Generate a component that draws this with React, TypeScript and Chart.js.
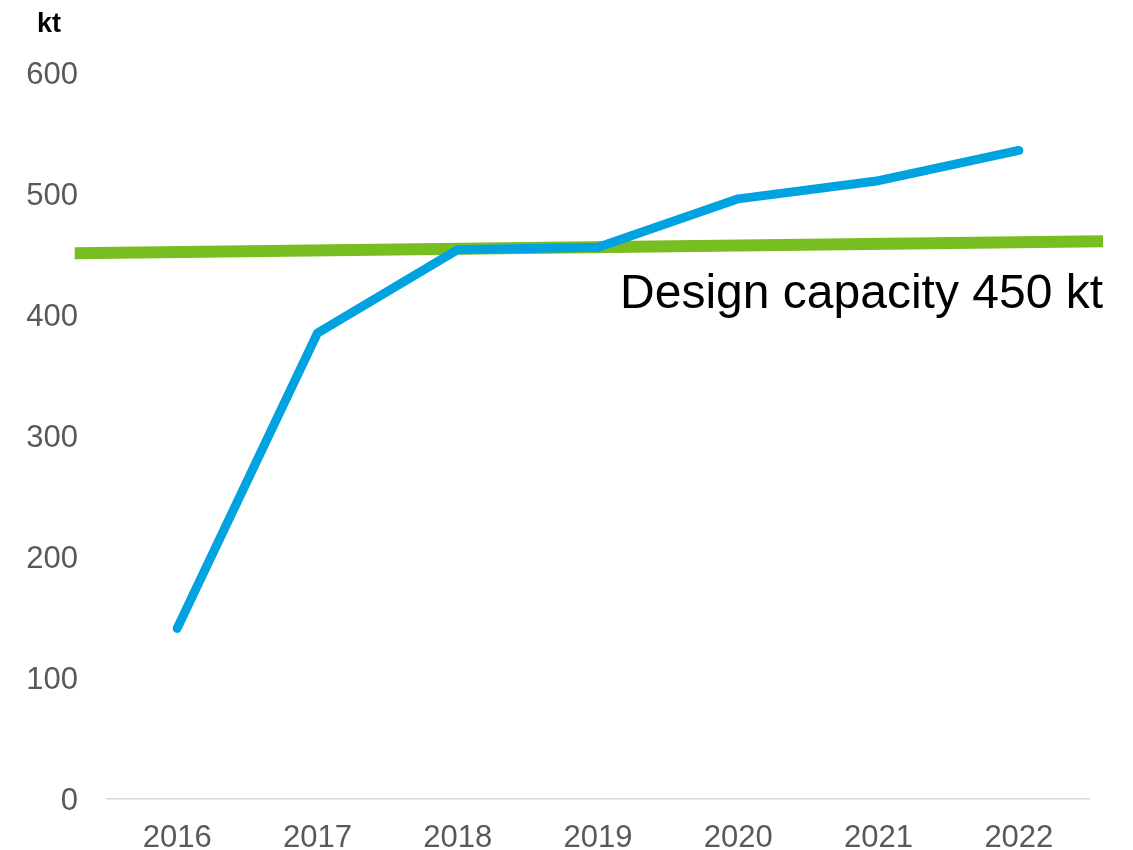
import React, { useEffect, useRef } from "react";
import { Chart, registerables } from "chart.js";

Chart.register(...registerables);

const years = ["2016", "2017", "2018", "2019", "2020", "2021", "2022"];
const production = [141, 385, 454, 456, 496, 511, 536];
// design capacity reference line: start/end (year position, kt)
const capacityX = [2015.27, 2022.6];
const capacityY = [451, 461];
const yTicks = [0, 100, 200, 300, 400, 500, 600];
const unitLabel = "kt";
const capacityLabel = "Design capacity 450 kt";
const capacityLabelValue = 406;

const FONT = "'Liberation Sans', Arial, sans-serif";

export default function App() {
  const ref = useRef<HTMLCanvasElement | null>(null);

  useEffect(() => {
    const canvas = ref.current;
    if (!canvas) return;
    document.body.style.margin = "0";

    const textPlugin = {
      id: "texts",
      afterDatasetsDraw(chart: any) {
        const ctx = chart.ctx;
        const xs = chart.scales.xCap;
        const ys = chart.scales.y;
        ctx.save();
        ctx.fillStyle = "#000000";
        ctx.font = `bold 27px ${FONT}`;
        ctx.textAlign = "left";
        ctx.textBaseline = "middle";
        ctx.fillText(unitLabel, 37, 25);
        ctx.font = `48px ${FONT}`;
        ctx.textAlign = "right";
        ctx.textBaseline = "alphabetic";
        ctx.fillText(
          capacityLabel,
          xs.getPixelForValue(capacityX[1]),
          ys.getPixelForValue(capacityLabelValue)
        );
        ctx.restore();
      },
    };

    const chart = new Chart(canvas, {
      type: "line",
      data: {
        labels: years,
        datasets: [
          {
            data: production,
            borderColor: "#00A3E0",
            borderWidth: 9,
            borderCapStyle: "round",
            borderJoinStyle: "round",
            pointRadius: 0,
            tension: 0,
            xAxisID: "x",
          } as any,
          {
            data: capacityX.map((x, i) => ({ x, y: capacityY[i] })),
            borderColor: "#78BE20",
            borderWidth: 12,
            borderCapStyle: "butt",
            pointRadius: 0,
            tension: 0,
            xAxisID: "xCap",
            clip: false,
          } as any,
        ],
      },
      options: {
        animation: false,
        responsive: false,
        maintainAspectRatio: false,
        layout: { padding: { top: 73, right: 44, bottom: 0, left: 0 } },
        plugins: { legend: { display: false }, tooltip: { enabled: false } },
        scales: {
          x: {
            type: "category",
            offset: true,
            grid: { display: false, drawTicks: false },
            border: { display: true, color: "#d9d9d9", width: 1.5 },
            ticks: {
              color: "#595959",
              font: { size: 31, family: FONT },
              padding: 21,
              maxRotation: 0,
            },
            afterFit(scale: any) {
              scale.height = 51;
            },
          },
          xCap: {
            type: "linear",
            display: false,
            min: 2015.5,
            max: 2022.5,
          },
          y: {
            min: 0,
            max: 600,
            grid: { display: false, drawTicks: false },
            border: { display: false },
            afterBuildTicks(scale: any) {
              scale.ticks = yTicks.map((v) => ({ value: v }));
            },
            ticks: {
              color: "#595959",
              font: { size: 31, family: FONT },
              padding: 29,
              labelOffset: 2,
            },
            afterFit(scale: any) {
              scale.width = 107;
            },
          },
        },
      } as any,
      plugins: [textPlugin],
    });

    return () => chart.destroy();
  }, []);

  return (
    <div style={{ position: "absolute", left: 0, top: 0, width: 1133, height: 850 }}>
      <canvas ref={ref} width={1133} height={850} />
    </div>
  );
}
